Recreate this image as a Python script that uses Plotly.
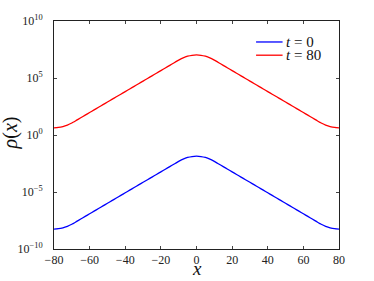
import plotly.graph_objects as go

# x positions (uniform 2.5 step)
x_vals = [-80, -77.5, -75, -72.5, -70, -67.5, -65, -62.5, -60, -57.5, -55, -52.5, -50,
          -47.5, -45, -42.5, -40, -37.5, -35, -32.5, -30, -27.5, -25, -22.5, -20, -17.5,
          -15, -12.5, -10, -7.5, -5, -2.5, 0, 2.5, 5, 7.5, 10, 12.5, 15, 17.5, 20, 22.5,
          25, 27.5, 30, 32.5, 35, 37.5, 40, 42.5, 45, 47.5, 50, 52.5, 55, 57.5, 60, 62.5,
          65, 67.5, 70, 72.5, 75, 77.5, 80]

# log10 of rho(x)
log_rho_t80 = [0.63, 0.66, 0.74, 0.87, 1.05, 1.28, 1.51, 1.74, 1.97, 2.20, 2.43, 2.66, 2.89,
               3.12, 3.35, 3.58, 3.81, 4.04, 4.27, 4.50, 4.73, 4.96, 5.19, 5.42, 5.65, 5.88,
               6.11, 6.34, 6.57, 6.77, 6.91, 6.99, 7.02, 6.99, 6.91, 6.77, 6.57, 6.34, 6.11,
               5.88, 5.65, 5.42, 5.19, 4.96, 4.73, 4.50, 4.27, 4.04, 3.81, 3.58, 3.35, 3.12,
               2.89, 2.66, 2.43, 2.20, 1.97, 1.74, 1.51, 1.28, 1.05, 0.87, 0.74, 0.66, 0.63]
log_rho_t0 = [-8.25, -8.22, -8.14, -8.01, -7.83, -7.60, -7.37, -7.14, -6.91, -6.68, -6.45,
              -6.22, -5.99, -5.76, -5.53, -5.30, -5.07, -4.84, -4.61, -4.38, -4.15, -3.92,
              -3.69, -3.46, -3.23, -3.00, -2.77, -2.54, -2.31, -2.11, -1.97, -1.89, -1.86,
              -1.89, -1.97, -2.11, -2.31, -2.54, -2.77, -3.00, -3.23, -3.46, -3.69, -3.92,
              -4.15, -4.38, -4.61, -4.84, -5.07, -5.30, -5.53, -5.76, -5.99, -6.22, -6.45,
              -6.68, -6.91, -7.14, -7.37, -7.60, -7.83, -8.01, -8.14, -8.22, -8.25]

x_ticks = [-80, -60, -40, -20, 0, 20, 40, 60, 80]
x_tick_text = ["\u221280", "\u221260", "\u221240", "\u221220", "0", "20", "40", "60", "80"]
y_ticks = [1e-10, 1e-5, 1e0, 1e5, 1e10]
y_tick_text = ["10<sup>\u221210</sup>", "10<sup>\u22125</sup>", "10<sup>0</sup>",
               "10<sup>5</sup>", "10<sup>10</sup>"]

series_names = ["<i>t</i> = 0", "<i>t</i> = 80"]
series_colors = ["#0000ff", "#ff0000"]

serif = "Liberation Serif"

fig = go.Figure()
for name, logs, col in zip(series_names, [log_rho_t0, log_rho_t80], series_colors):
    fig.add_trace(go.Scatter(
        x=x_vals, y=[10 ** v for v in logs], mode="lines", name=name,
        line=dict(color=col, width=1.3, shape="spline", smoothing=0.4),
        showlegend=False,
    ))

# hand-drawn legend (line sample + label) in the upper right of the plot
legend_rows_y = [0.908, 0.850]
for name, col, yy in zip(series_names, series_colors, legend_rows_y):
    fig.add_shape(type="line", xref="paper", yref="paper",
                  x0=0.709, x1=0.802, y0=yy, y1=yy,
                  line=dict(color=col, width=1.3))
    fig.add_annotation(xref="paper", yref="paper", x=0.810, y=yy,
                       xanchor="left", yanchor="middle", showarrow=False,
                       text=name, font=dict(family=serif, size=15, color="#111"),
                       borderpad=0)

# axis titles
fig.add_annotation(xref="paper", yref="paper", x=0.5, y=-0.086, xanchor="center",
                   yanchor="middle", showarrow=False, text="<i>x</i>", borderpad=0,
                   font=dict(family=serif, size=19, color="#111"))
fig.add_annotation(xref="paper", yref="paper", x=-0.152, y=0.51, xanchor="center",
                   yanchor="middle", showarrow=False, textangle=-90, borderpad=0,
                   text="<i>\u03c1</i>(<i>x</i>)",
                   font=dict(family=serif, size=20, color="#111"))

axis_common = dict(
    showline=True, linecolor="#222", linewidth=1, mirror="ticks",
    ticks="inside", ticklen=3, tickcolor="#444", tickwidth=1,
    showgrid=False, zeroline=False,
    tickfont=dict(family=serif, size=12, color="#222"),
)

fig.update_layout(
    width=374, height=281,
    margin=dict(l=54, r=35, t=21, b=32),
    paper_bgcolor="white", plot_bgcolor="white",
    font=dict(family=serif, size=12, color="#222"),
    showlegend=False,
    xaxis=dict(
        range=[-80, 80], tickvals=x_ticks, ticktext=x_tick_text,
        ticklabelstandoff=0,
        **axis_common,
    ),
    yaxis=dict(
        type="log", range=[-10, 10], tickvals=y_ticks, ticktext=y_tick_text,
        ticklabelstandoff=8,
        **axis_common,
    ),
)

fig.write_html("out.html", config={"displayModeBar": False},
               post_script="document.body.style.margin='0';")
